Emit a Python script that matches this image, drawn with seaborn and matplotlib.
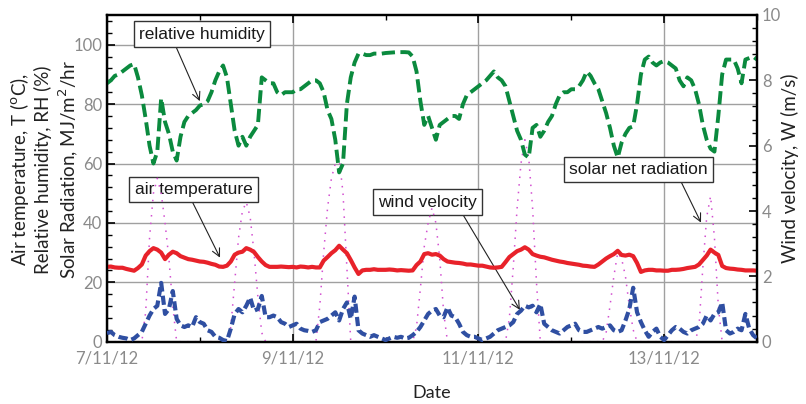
import numpy as np
import pandas as pd
import matplotlib
matplotlib.use("Agg")
import matplotlib.pyplot as plt
import matplotlib.dates as mdates
from matplotlib.ticker import MultipleLocator
import seaborn as sns

# ---------------- data (hourly readings, 7/11/12 00:00 .. 14/11/12 00:00) ----------------
start = "2012-11-07"
n_hours = 169

humidity = [87, 88, 89.5, 90, 91, 92, 93, 93.5, 89, 83, 75, 66, 60, 64, 82, 74, 70, 64, 61, 69,
            74, 76, 77, 78, 79.5, 80, 81, 84, 88, 91, 93, 89, 80, 71, 66, 69, 66, 69, 71, 73,
            89, 88, 87, 87, 84, 83, 84, 84, 84, 85, 85, 86, 87, 88, 88, 87, 84, 78, 75, 68,
            57, 60, 80, 89, 94, 97, 97, 96.5, 96.5, 97, 97, 97, 97.2, 97.3, 97.4, 97.5, 97.5, 97.5, 97.4, 96,
            91, 81, 73, 76, 72, 68, 73, 74, 75, 76, 76, 75, 80, 83, 84, 85, 86, 87, 88, 89.5,
            91, 89, 88, 86, 81, 76, 71, 68, 63, 62, 72, 73, 69, 71, 74, 76, 80, 83, 84, 84,
            85, 85, 86, 88, 91, 89.5, 87, 85, 81, 77, 72, 66, 62, 67, 70, 72, 72.5, 80, 90, 95,
            96, 94, 93, 94, 94.5, 94, 93, 92, 88, 86, 89, 88, 85, 80, 73, 68, 65, 64, 76, 90,
            95, 95, 95, 92, 87, 95, 95.5, 96, 95]

temperature = [25.2, 25.3, 25.0, 24.9, 24.9, 24.5, 24.2, 23.9, 24.8, 26.0, 29.0, 30.5, 31.5, 31.0, 30.0, 27.8, 29.3, 30.3, 29.8, 28.8,
               28.3, 27.8, 27.6, 27.3, 27.0, 26.9, 26.6, 26.2, 25.9, 25.3, 25.2, 25.6, 27.0, 29.3, 30.0, 30.3, 31.5, 31.0, 30.2, 28.5,
               27.0, 25.8, 25.2, 25.2, 25.2, 25.3, 25.2, 25.1, 25.2, 25.0, 25.3, 25.2, 25.0, 25.2, 25.0, 25.0, 27.3, 28.5, 29.8, 30.8,
               32.3, 31.0, 29.8, 27.5, 25.0, 22.8, 24.0, 24.2, 24.2, 24.4, 24.2, 24.2, 24.2, 24.3, 24.2, 24.0, 24.1, 24.0, 23.9, 24.0,
               25.8, 27.0, 29.5, 29.8, 29.3, 29.5, 29.0, 27.8, 27.0, 26.8, 26.6, 26.5, 26.3, 26.0, 26.0, 25.8, 25.6, 25.6, 25.3, 25.0,
               24.9, 25.0, 25.2, 26.8, 28.5, 29.5, 30.5, 31.0, 31.8, 31.0, 29.5, 29.0, 28.6, 28.4, 28.0, 27.6, 27.3, 27.0, 26.8, 26.5,
               26.3, 26.1, 25.9, 25.6, 25.5, 25.3, 25.2, 26.0, 27.0, 28.0, 28.8, 29.5, 30.6, 29.2, 29.0, 29.3, 28.8, 26.5, 23.5, 24.0,
               24.2, 24.2, 24.0, 24.0, 23.9, 23.9, 24.2, 24.2, 24.3, 24.5, 24.8, 25.0, 25.2, 26.0, 27.5, 29.0, 31.0, 30.0, 29.2, 25.5,
               24.8, 24.6, 24.5, 24.3, 24.2, 24.0, 24.0, 24.0, 23.9]

wind = [0.26, 0.3, 0.2, 0.15, 0.12, 0.1, 0.05, 0.1, 0.2, 0.3, 0.55, 0.8, 1.0, 1.1, 1.8, 0.85, 1.0, 1.55, 0.7, 0.5,
        0.45, 0.5, 0.45, 0.75, 0.6, 0.55, 0.35, 0.3, 0.15, 0.12, 0.05, 0.02, 0.4, 0.85, 1.0, 0.9, 1.1, 1.35, 0.95, 1.0,
        1.4, 0.75, 0.75, 0.8, 0.75, 0.6, 0.55, 0.45, 0.5, 0.55, 0.4, 0.35, 0.33, 0.3, 0.35, 0.6, 0.65, 0.7, 0.8, 0.9,
        0.65, 1.0, 1.2, 0.7, 1.38, 0.35, 0.25, 0.2, 0.15, 0.2, 0.15, 0.1, 0.05, 0.1, 0.15, 0.12, 0.15, 0.1, 0.12, 0.2,
        0.3, 0.45, 0.65, 0.85, 0.95, 1.0, 0.8, 0.75, 1.05, 0.8, 0.75, 0.55, 0.3, 0.2, 0.15, 0.15, 0.1, 0.05, 0.1, 0.15,
        0.25, 0.35, 0.4, 0.45, 0.5, 0.6, 0.85, 0.95, 1.1, 1.05, 1.1, 0.9, 1.15, 0.55, 0.45, 0.35, 0.3, 0.25, 0.35, 0.45,
        0.5, 0.55, 0.35, 0.3, 0.3, 0.35, 0.4, 0.45, 0.4, 0.45, 0.5, 0.35, 0.3, 0.35, 0.65, 1.0, 1.65, 0.9, 0.6, 0.35,
        0.15, 0.3, 0.4, 0.15, 0.05, 0.2, 0.35, 0.45, 0.4, 0.3, 0.25, 0.35, 0.4, 0.45, 0.55, 0.8, 0.65, 0.85, 0.9, 1.2,
        0.35, 0.25, 0.3, 0.4, 0.35, 0.85, 0.4, 0.2, 0.1]

solar = [0, 0, 0, 0, 0, 0, 0, 0, 0, 0, 10, 35, 50, 55, 50, 40, 28, 12, 0, 0,
         0, 0, 0, 0, 0, 0, 0, 0, 0, 0, 0, 0, 5, 20, 35, 44, 47, 42, 30, 15,
         3, 0, 0, 0, 0, 0, 0, 0, 0, 0, 0, 0, 0, 0, 0, 12, 30, 45, 55, 60,
         62, 50, 25, 0, 0, 0, 0, 0, 0, 0, 0, 0, 0, 0, 0, 0, 0, 0, 0, 0,
         5, 18, 32, 40, 45, 40, 28, 10, 0, 0, 0, 0, 0, 0, 0, 0, 0, 0, 0, 0,
         0, 0, 0, 0, 8, 25, 45, 60, 68, 62, 45, 20, 0, 0, 0, 0, 0, 0, 0, 0,
         0, 0, 0, 0, 0, 0, 0, 0, 0, 3, 12, 22, 30, 28, 22, 12, 4, 0, 0, 0,
         0, 0, 0, 0, 0, 0, 0, 0, 0, 0, 0, 0, 0, 5, 25, 42, 49, 35, 12, 0,
         0, 0, 0, 0, 0, 0, 0, 0, 0]

tick_dates = ["2012-11-07", "2012-11-09", "2012-11-11", "2012-11-13"]
tick_labels = ["7/11/12", "9/11/12", "11/11/12", "13/11/12"]

times = pd.date_range(start, periods=n_hours, freq="h")
df = pd.DataFrame({"time": times, "rh": humidity, "temp": temperature,
                   "wind": wind, "solar": solar})

# ---------------- figure ----------------
sns.set_theme(style="white")
plt.rcParams["font.family"] = ["Lato", "DejaVu Sans"]

W, H = 806, 404
fig = plt.figure(figsize=(W / 100, H / 100), dpi=100)
ax = fig.add_axes([107 / W, 1 - 341.7 / H, 650 / W, 326.7 / H])
ax2 = ax.twinx()

GREEN = "#0b8a3e"
RED = "#e8222a"
BLUE = "#2f4fa2"
PINK = "#d24fd0"

sns.lineplot(data=df, x="time", y="solar", ax=ax, color=PINK, lw=1.1, zorder=3)
ax.get_lines()[-1].set_linestyle((0, (1, 4)))
sns.lineplot(data=df, x="time", y="temp", ax=ax, color=RED, lw=3.0, zorder=4)
sns.lineplot(data=df, x="time", y="rh", ax=ax, color=GREEN, lw=2.8, zorder=4)
ax.get_lines()[-1].set_dashes([3.4, 1.4])
sns.lineplot(data=df, x="time", y="wind", ax=ax2, color=BLUE, lw=3.0, zorder=4)
ax2.get_lines()[-1].set_dashes([2.2, 1.0])

x0 = pd.Timestamp("2012-11-07")
x1 = pd.Timestamp("2012-11-14")
ax.set_xlim(x0, x1)
ax.set_ylim(0, 110)
ax2.set_ylim(0, 10)

# ticks
ax.set_xticks(pd.to_datetime(tick_dates))
ax.set_xticklabels(tick_labels)
ax.xaxis.set_minor_locator(mdates.DayLocator())
ax.set_yticks([0, 20, 40, 60, 80, 100])
ax.yaxis.set_minor_locator(MultipleLocator(4))
ax2.set_yticks([0, 2, 4, 6, 8, 10])
ax2.yaxis.set_minor_locator(MultipleLocator(0.4))

TICKC = "#8a8a8a"
ax.tick_params(axis="both", which="major", direction="in", length=6, width=1.2,
               colors="black", labelcolor=TICKC, labelsize=12, top=True, bottom=True, left=True)
ax.tick_params(axis="both", which="minor", direction="in", length=3.5, width=1.0,
               colors="black", top=True, bottom=True, left=True)
ax.tick_params(axis="x", which="major", pad=6)
ax2.tick_params(axis="y", which="major", direction="in", length=6, width=1.2,
                colors="black", labelcolor=TICKC, labelsize=12, right=True)
ax2.tick_params(axis="y", which="minor", direction="in", length=3.5, width=1.0,
                colors="black", right=True)

ax.grid(True, which="major", color="#a0a0a0", lw=1.0)
ax.set_axisbelow(True)
for a in (ax, ax2):
    for s in a.spines.values():
        s.set_color("black")
        s.set_linewidth(1.6)
ax.set_xlabel("")
ax.set_ylabel("")
ax2.set_ylabel("")

LABC = "#222222"
fig.text(432 / W, 1 - 393 / H, "Date", fontsize=13, color=LABC, ha="center", va="center")
fig.text(44 / W, 1 - 170 / H,
         "Air temperature, T ($^{\\rm o}$C),\nRelative humidity, RH (%)\nSolar Radiation, MJ/m$^{\\rm 2}$/hr",
         fontsize=13.5, color=LABC, ha="center", va="center", rotation=90,
         linespacing=1.2, multialignment="center")
fig.text(790 / W, 1 - 168 / H, "Wind velocity, W (m/s)", fontsize=13.5, color=LABC,
         ha="center", va="center", rotation=90)

# ---------------- annotations ----------------
def day(d):
    return x0 + pd.Timedelta(days=d)

box = dict(boxstyle="square,pad=0.3", fc="white", ec="#333333", lw=1.0)
afont = dict(fontsize=12.5, family=["Liberation Sans", "DejaVu Sans"], color="#1a1a1a",
             ha="center", va="center", zorder=1)

notes = [
    ("relative humidity", 1.023, 103.6, 1.00, 81.0, (0.275, 0.0)),
    ("air temperature", 0.932, 51.2, 1.217, 28.3, (0.47, 0.0)),
    ("wind velocity", 3.45, 47.0, 4.447, 10.7, (0.83, 0.0)),
    ("solar net radiation", 5.724, 58.0, 6.397, 40.1, (0.79, 0.0)),
]
for text, tx, ty, px, py, rel in notes:
    ax.annotate(text, xy=(day(px), py), xytext=(day(tx), ty), bbox=box,
                arrowprops=dict(arrowstyle="->", color="#222222", lw=0.8,
                                shrinkA=0, shrinkB=0, relpos=rel,
                                mutation_scale=14),
                **afont)

fig.savefig("out.png", dpi=100)
